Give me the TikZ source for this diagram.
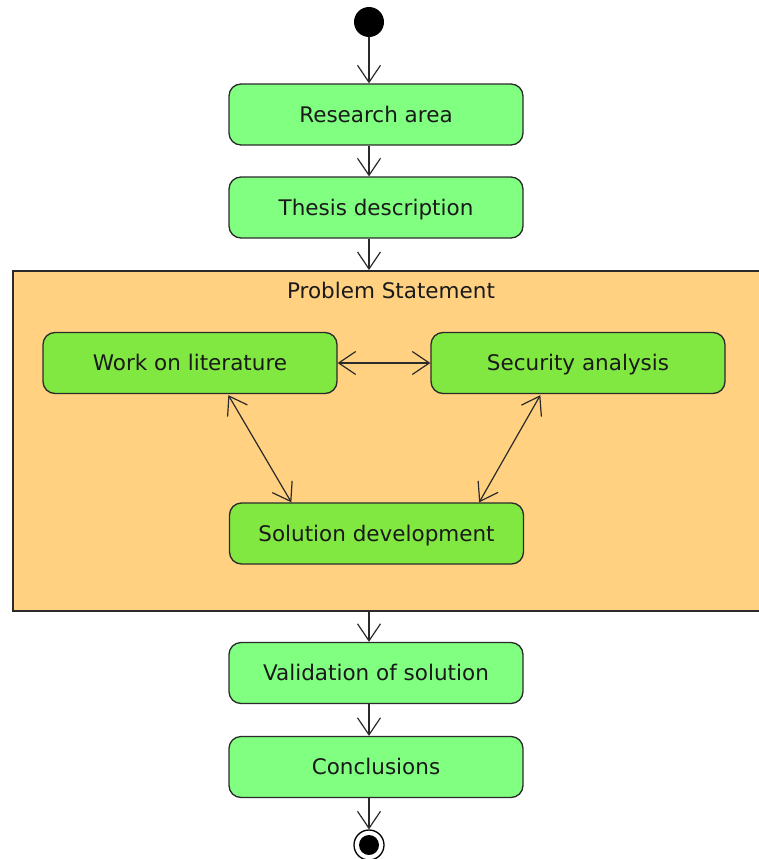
\documentclass[tikz,border=0pt]{standalone}
\usepackage{fontspec}
\setmainfont{DejaVu Sans}
\usetikzlibrary{arrows.meta,calc}
\definecolor{actfill}{HTML}{80FF80}
\definecolor{innerfill}{HTML}{80E840}
\definecolor{framefill}{HTML}{FFD180}
\definecolor{edgecol}{HTML}{2A2A2A}
\definecolor{txtcol}{HTML}{1A1A1A}
\begin{document}
\begin{tikzpicture}[x=1pt,y=-1pt,
  activity/.style={draw=edgecol, line width=1.3pt, rounded corners=12pt,
    minimum width=294pt, minimum height=61pt, inner sep=0pt,
    text height=15.5pt, text depth=0pt,
    text=txtcol, font=\fontsize{21.5}{25}\selectfont},
  outeract/.style={activity, fill=actfill},
  inneract/.style={activity, fill=innerfill},
  region/.style={draw=edgecol, line width=1.5pt, fill=framefill,
    minimum width=770pt, minimum height=340pt, inner sep=0pt, anchor=north west},
  flow/.style={draw=edgecol, line width=1.2pt,
    -{Straight Barb[length=17pt,width=23pt,line width=1.2pt]}},
  both/.style={draw=edgecol, line width=1.2pt,
    {Straight Barb[length=17pt,width=23pt,line width=1.2pt]}-{Straight Barb[length=17pt,width=23pt,line width=1.2pt]}}]
\useasboundingbox (0,0) rectangle (759,859);

% initial node
\node[circle, fill=black, minimum size=30pt, inner sep=0pt] (start) at (369,22) {};

\node[outeract] (research) at (376,114.5) {Research area};
\node[outeract] (thesis) at (376,207.5) {Thesis description};

% problem statement region
\node[region] (ps) at (12,270) {};
\node[text=txtcol, font=\fontsize{21.5}{25}\selectfont, inner sep=0pt,
  text height=15.5pt, text depth=0pt] (pstitle) at (391,291) {Problem Statement};

\node[inneract] (work) at (190,363) {Work on literature};
\node[inneract] (security) at (578,363) {Security analysis};
\node[inneract] (solution) at (376.5,533.5) {Solution development};

\node[outeract] (validation) at (376,673) {Validation of solution};
\node[outeract] (conclusions) at (376,767) {Conclusions};

% final node
\node[circle, draw=black, line width=1.3pt, fill=white, minimum size=30pt, inner sep=0pt] (endpt) at (369,845) {};
\node[circle, fill=black, minimum size=20pt, inner sep=0pt] (endin) at (endpt) {};

% main flow
\draw[flow] (start.south) -- (research.north -| start.south);
\draw[flow] (research.south -| start.south) -- (thesis.north -| start.south);
\draw[flow] (thesis.south -| start.south) -- (ps.north -| start.south);
\draw[flow] (ps.south -| start.south) -- (validation.north -| start.south);
\draw[flow] (validation.south -| start.south) -- (conclusions.north -| start.south);
\draw[flow] (conclusions.south -| start.south) -- (endpt.north);

% interactions inside the problem statement
\draw[both] (work.east) -- (security.west);
\draw[both] ($(work.south west)+(186,1)$) -- ($(solution.north west)+(62.5,0)$);
\draw[both] ($(security.south west)+(110,1)$) -- ($(solution.north east)+(-45,0)$);
\end{tikzpicture}
\end{document}
